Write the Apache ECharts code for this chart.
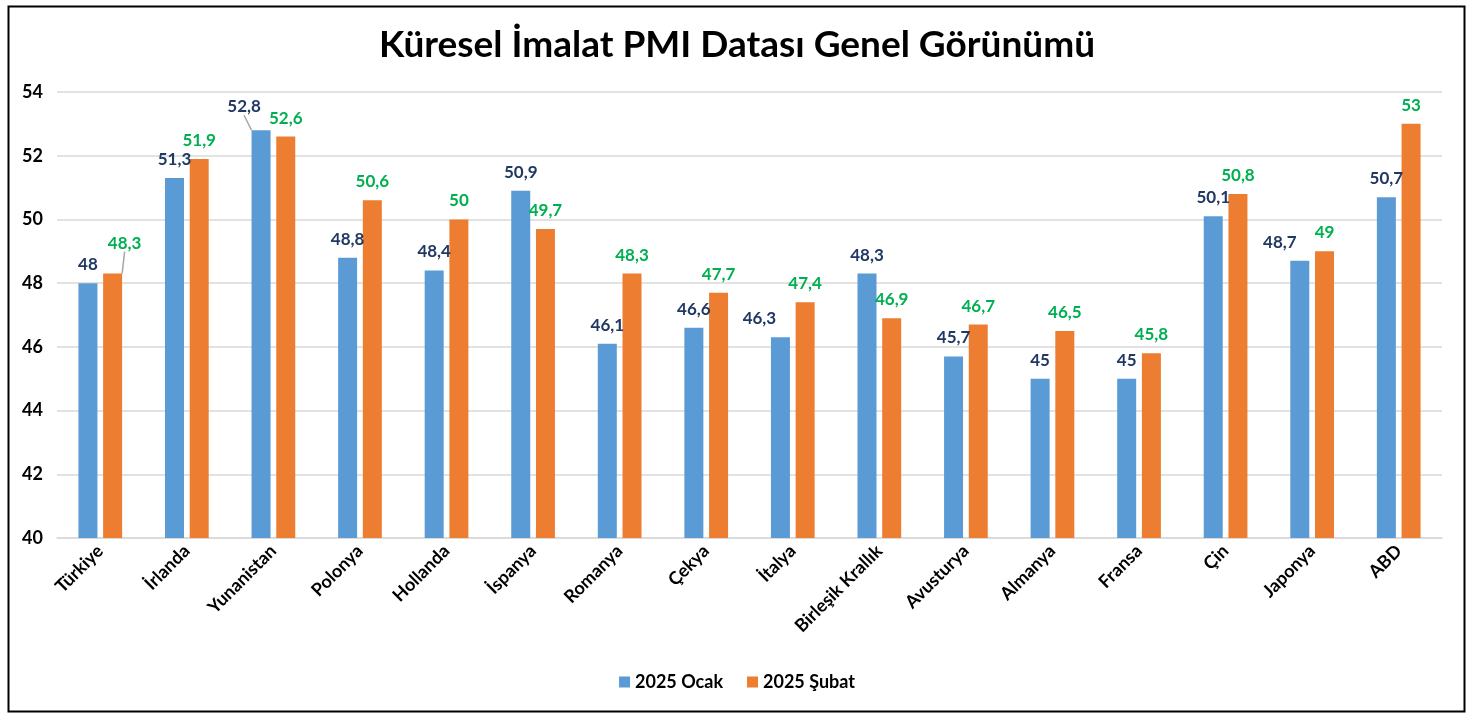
<!DOCTYPE html>
<html>
<head>
<meta charset="utf-8">
<script src="https://cdn.jsdelivr.net/npm/echarts@6/dist/echarts.min.js"></script>
<style>
  html, body { margin: 0; padding: 0; background: #fff; }
  #main { width: 1474px; height: 715px; }
</style>
</head>
<body>
<div id="main"></div>
<script>
// ülkeler
var ulkeler = ['Türkiye', 'İrlanda', 'Yunanistan', 'Polonya', 'Hollanda', 'İspanya', 'Romanya', 'Çekya',
  'İtalya', 'Birleşik Krallık', 'Avusturya', 'Almanya', 'Fransa', 'Çin', 'Japonya', 'ABD'];
var ocak = [48, 51.3, 52.8, 48.8, 48.4, 50.9, 46.1, 46.6, 46.3, 48.3, 45.7, 45, 45, 50.1, 48.7, 50.7];
var subat = [48.3, 51.9, 52.6, 50.6, 50, 49.7, 48.3, 47.7, 47.4, 46.9, 46.7, 46.5, 45.8, 50.8, 49, 53];

var FONT = 'Lato, "Open Sans", sans-serif';

//etiket kaydırmaları (seri, indeks) -> dx, dy
var kaydir = {
  '0-2': [-17, -5, true],
  '0-8': [-21, 0, false],
  '0-14': [-20, 0, false],
  '1-0': [12, -12, true]
};

function veri(arr, s) {
  return arr.map(function (v, i) {
    var k = kaydir[s + '-' + i];
    return {
      value: v,
      labelLine: { show: !!(k && k[2]), lineStyle: { color: '#a6a6a6', width: 1.5 } }
    };
  });
}

function etiket(renk) {
  return {
    show: true,
    position: 'top',
    distance: 10,
    color: renk,
    fontFamily: FONT,
    fontWeight: 'bold',
    fontSize: 17,
    formatter: function (p) { return String(p.value).replace('.', ','); }
  };
}

var chart = echarts.init(document.getElementById('main'));
chart.setOption({
  animation: false,
  backgroundColor: '#fff',
  title: {
    text: 'Küresel İmalat PMI Datası Genel Görünümü',
    left: 'center',
    top: 22,
    textStyle: { fontFamily: FONT, fontWeight: 'bold', fontSize: 37, color: '#000' }
  },
  legend: {
    bottom: 19,
    left: 'center',
    itemWidth: 11,
    itemHeight: 11,
    itemGap: 24,
    icon: 'rect',
    textStyle: { fontFamily: FONT, fontWeight: 'bold', fontSize: 18, color: '#000' },
    data: ['2025 Ocak', '2025 Şubat']
  },
  grid: { left: 57, right: 32, top: 92, bottom: 177, outerBoundsMode: 'none' },
  xAxis: {
    type: 'category',
    data: ulkeler,
    axisLine: { lineStyle: { color: '#d9d9d9', width: 1.5 } },
    axisTick: { show: false },
    axisLabel: {
      rotate: 45,
      interval: 0,
      margin: 10,
      fontFamily: FONT,
      fontWeight: 'bold',
      fontSize: 18,
      color: '#000'
    }
  },
  yAxis: {
    type: 'value',
    min: 40,
    max: 54,
    interval: 2,
    axisLine: { show: false },
    axisTick: { show: false },
    axisLabel: { fontFamily: FONT, fontWeight: 'bold', fontSize: 18, color: '#000', margin: 14 },
    splitLine: { lineStyle: { color: '#d9d9d9', width: 1.5 } }
  },
  series: [
    {
      name: '2025 Ocak',
      type: 'bar',
      barWidth: 19,
      barGap: '30%',
      itemStyle: { color: '#5b9bd5' },
      label: etiket('#203864'),
      data: veri(ocak, 0)
    },
    {
      name: '2025 Şubat',
      type: 'bar',
      barWidth: 19,
      barGap: '30%',
      itemStyle: { color: '#ed7d31' },
      label: etiket('#00b050'),
      data: veri(subat, 1)
    }
  ],
  labelLayout: function (p) {
    var k = kaydir[p.seriesIndex + '-' + p.dataIndex];
    if (!k) return {};
    return { dx: k[0], dy: k[1] };
  },
  graphic: [{
    type: 'rect',
    left: 6,
    top: 4,
    shape: { width: 1456, height: 705 },
    style: { fill: 'none', stroke: '#000', lineWidth: 2 },
    silent: true
  }]
});
</script>
</body>
</html>
